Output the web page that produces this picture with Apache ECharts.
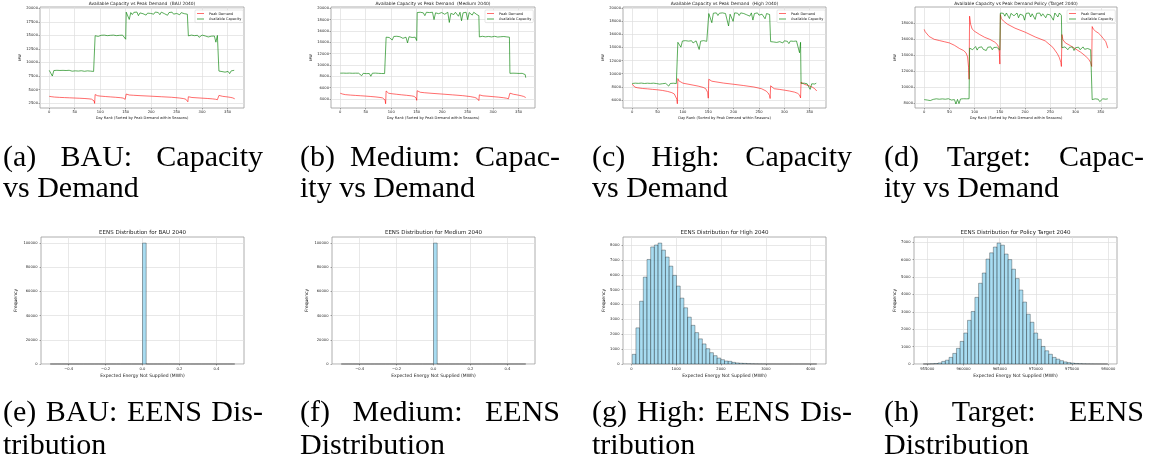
<!DOCTYPE html>
<html>
<head>
<meta charset="utf-8">
<script src="https://cdn.jsdelivr.net/npm/echarts@6.0.0/dist/echarts.min.js"></script>
<style>
html, body { margin: 0; padding: 0; background: #fff; }
#wrap { position: relative; width: 1152px; height: 468px; overflow: hidden; }
#chart { position: absolute; left: 0; top: 0; width: 1152px; height: 468px; }
.cap { position: absolute; font-family: "Liberation Serif", serif; font-size: 30px; line-height: 32px; color: #000; white-space: nowrap; }
.cap.j { text-align: justify; text-align-last: justify; white-space: normal; }
</style>
</head>
<body>
<div id="wrap"><div id="chart"></div></div>
<script>
// ---- capacity vs demand (day rank within seasons) ----
const capDays = [
  0,3,6,9,12,15,18,21,24,27,30,33,36,39,42,45,48,51,54,57,60,63,66,69,72,75,78,81,84,87,89,
  90,93,96,99,102,105,108,111,114,117,120,123,126,129,132,135,138,141,144,147,150,
  151,154,157,160,163,166,169,172,175,178,181,184,187,190,193,196,199,202,205,208,211,214,217,220,223,226,229,232,235,238,241,244,247,250,253,256,259,262,265,268,271,272,
  273,276,279,282,285,288,291,294,297,300,303,306,309,312,315,318,321,324,327,330,332,
  333,336,339,342,345,348,351,354,357,360,363,364
];
const capBAU = [
  8550,8460,7500,8520,8430,8560,8480,8530,8410,8550,8470,8520,8430,8560,8490,8400,8530,8460,8550,8420,8510,8480,8540,8380,8500,8460,8520,8410,8490,8350,8300,
  14950,15060,14820,14980,15030,14750,15060,14880,14960,14650,15020,14900,15060,14820,14960,14740,15020,14870,15050,14900,14300,
  19300,19120,17950,19220,18850,19260,19020,19320,18650,19160,19300,19010,19260,18750,19120,19310,19060,19250,18920,19320,19110,19220,18830,19300,19160,19020,19310,18720,19220,19110,19300,18930,19260,19060,19310,18820,19210,19300,19020,19260,18920,19100,
  14920,14830,15060,14720,14960,14860,15020,14650,14960,15060,14820,14910,15030,14720,14960,14860,15060,14900,13750,15000,14850,
  8420,8560,8330,8470,8220,8510,8360,7950,8450,8520,8560,8600
];
const capMedium = [
  8550,8520,8560,8490,8540,8500,8560,8470,8530,8510,8550,8480,8540,8500,8100,8520,8550,8470,8530,8490,8000,8540,8500,8560,8470,8520,8550,8490,8530,8480,8500,
  14900,15050,14850,14980,14400,15030,14920,15060,14800,14980,15020,14700,15050,14900,13900,14980,15040,14850,15000,14900,14300,
  19250,19100,19300,19000,19200,18700,19300,19150,19250,18900,19300,18000,19200,19300,19050,18700,19250,19300,18950,19200,19300,17500,19100,19250,18900,19300,19150,18600,19300,17800,19200,19050,19300,18000,19250,19100,18800,19300,19150,18900,19250,18700,
  14950,14880,15060,14800,14960,14900,15030,14750,14950,14870,15050,14800,14930,14700,14980,14850,15020,14780,14950,14600,14900,
  8520,8450,8550,8480,8530,8400,8500,8470,8520,8450,8300,7750
];
const capHigh = [
  8500,8420,8550,8380,8520,8450,8560,8400,8500,8470,8540,8360,8510,8450,8550,8420,8490,8530,8400,8560,8470,8380,8520,8450,8100,8500,8300,8540,8420,8490,8450,
  14800,14950,14050,15000,14900,15050,14750,14980,14880,15040,14700,14950,15020,14850,13700,14980,14900,15050,14800,14950,14850,
  19200,19300,17800,19250,19100,19300,18900,19250,19150,19300,19000,19200,19300,17300,19100,19250,18000,19300,19150,19250,18900,19300,19100,19200,19300,19000,19250,18800,19300,18200,19200,19100,19300,18950,19250,19100,19300,18400,19200,19300,19050,19150,
  14900,15020,14850,14980,14780,15050,14900,14960,14700,15030,14880,14950,14600,15000,14850,14950,14750,15000,14900,13200,14800,
  8500,8400,8550,8300,8450,8000,7600,8450,8500,8420,8550,8500
];
const capTarget = [
  8450,8550,8400,8500,8330,8560,8480,8420,8550,8390,8500,8460,8540,8380,8500,8430,8560,8470,8400,8520,8450,7900,8480,7950,8530,8460,8560,8500,8550,8520,8560,
  14900,15050,14700,14950,15100,14650,14980,14850,15060,14750,14950,14600,15000,14900,15060,14700,14980,14850,15000,14750,14650,
  19300,19150,19250,18900,19300,19100,18600,19250,19300,18950,19200,19300,18700,19150,19300,19000,18400,19250,19100,19300,18800,19200,19300,18500,19250,19100,19300,18900,19200,19300,18700,19150,19300,19050,19250,18400,19300,19200,18800,19300,19100,19000,
  14950,14800,15050,14900,14700,15000,14850,15050,14600,14950,14800,15020,14700,14900,15050,14750,14950,14850,15000,14700,14800,
  8450,8300,8550,8400,8500,8200,8450,8550,8350,8500,8450,8550
];

const demandDays = [
  0,2,5,10,20,30,40,50,60,70,78,83,86,88,89,
  90,92,95,100,110,120,130,140,145,148,149,150,
  151,153,157,165,180,200,220,240,255,264,268,271,272,
  273,275,280,290,300,310,320,326,330,331,332,
  333,335,340,345,350,355,360,364
];
const demandBAU = [
  3750,3720,3680,3620,3560,3520,3480,3440,3400,3350,3290,3230,3150,2900,2450,
  4080,3950,3860,3800,3720,3650,3580,3500,3430,3330,3200,2850,
  4180,4080,4000,3950,3870,3780,3680,3580,3450,3330,3220,3050,2750,
  3680,3600,3540,3480,3420,3360,3290,3220,3130,3020,2850,
  3920,3850,3760,3700,3640,3570,3470,3300
];
const demandMedium = [
  5000,4920,4850,4760,4680,4620,4560,4500,4430,4350,4260,4180,4080,3800,3150,
  5400,5150,5000,4930,4830,4730,4640,4540,4450,4320,4150,3750,
  5450,5300,5180,5100,4990,4860,4720,4580,4420,4260,4120,3950,3700,
  4720,4620,4550,4480,4400,4320,4220,4130,4020,3900,3720,
  5020,4900,4820,4750,4660,4560,4440,4250
];
const demandHigh = [
  8400,8150,7950,7850,7740,7680,7600,7530,7430,7280,7100,6900,6650,6100,5400,
  9250,8900,8700,8550,8400,8250,8100,7900,7700,7450,7100,6250,
  9150,8950,8850,8750,8560,8380,8180,7960,7700,7350,7050,6650,6200,
  8150,7850,7700,7600,7480,7350,7180,7000,6750,6550,6300,
  8700,8500,8350,8250,8100,7950,7700,7350
];
const demandTarget = [
  17250,16950,16700,16350,16000,15850,15700,15550,15250,14850,14600,14300,13800,12500,11000,
  18900,17900,17300,17000,16600,16250,16000,15650,15350,14950,14300,12900,
  19100,18600,18300,17900,17400,16900,16300,15800,15000,14200,13700,13100,12600,
  16600,15950,15550,15200,14800,14400,13900,13500,13100,12900,12600,
  17600,17300,17000,16800,16500,16100,15700,14900
];

const dayTicks = [0, 50, 100, 150, 200, 250, 300, 350];
const mwTicksBAU = [2500, 5000, 7500, 10000, 12500, 15000, 17500, 20000];
const mwTicksMedium = [4000, 6000, 8000, 10000, 12000, 14000, 16000, 18000, 20000];
const mwTicksHigh = [6000, 8000, 10000, 12000, 14000, 16000, 18000, 20000];
const mwTicksTarget = [8000, 10000, 12000, 14000, 16000, 18000];

// ---- EENS histograms (50 bins each) ----
const zeroBinStart = -0.5, zeroBinWidth = 0.02;
const countsBAU = [0,0,0,0,0,0,0,0,0,0,0,0,0,0,0,0,0,0,0,0,0,0,0,0,0,100000,0,0,0,0,0,0,0,0,0,0,0,0,0,0,0,0,0,0,0,0,0,0,0,0];
const countsMedium = [0,0,0,0,0,0,0,0,0,0,0,0,0,0,0,0,0,0,0,0,0,0,0,0,0,100000,0,0,0,0,0,0,0,0,0,0,0,0,0,0,0,0,0,0,0,0,0,0,0,0];
const highBinStart = 20, highBinWidth = 82.3;
const countsHigh = [650,2430,4220,5840,7030,7870,8000,8130,7660,7190,6580,5960,5240,4430,3780,3150,2600,2110,1690,1350,1030,760,560,400,290,200,180,110,70,50,40,25,15,10,6,4,3,2,2,1,1,1,0,1,0,0,1,0,0,1];
const targetBinStart = 954437, targetBinWidth = 509.8;
const countsTarget = [2,5,15,30,60,150,220,380,610,900,1300,1780,2510,3020,3830,4640,5230,6030,6390,6720,6950,6830,6320,6000,5450,4910,4250,3560,2860,2400,1780,1420,1010,760,560,380,280,190,120,80,50,30,20,12,8,5,3,2,1,1];
const zeroTicks = [-0.4, -0.2, 0, 0.2, 0.4];
const highTicks = [0, 1000, 2000, 3000, 4000];
const targetTicks = [955000, 960000, 965000, 970000, 975000, 980000];
const freqTicksZero = [0, 20000, 40000, 60000, 80000, 100000];
const freqTicksHigh = [0, 1000, 2000, 3000, 4000, 5000, 6000, 7000, 8000];
const freqTicksTarget = [0, 1000, 2000, 3000, 4000, 5000, 6000, 7000];

const topTitles = [
  'Available Capacity vs Peak Demand  (BAU 2040)',
  'Available Capacity vs Peak Demand  (Medium 2040)',
  'Available Capacity vs Peak Demand  (High 2040)',
  'Available Capacity vs Peak Demand Policy (Target 2040)'
];
const bottomTitles = [
  'EENS Distribution for BAU 2040',
  'EENS Distribution for Medium 2040',
  'EENS Distribution for High 2040',
  'EENS Distribution for Policy Target 2040'
];
const captionsTop = [
  ['(a) BAU: Capacity', 'vs Demand'],
  ['(b) Medium: Capac-', 'ity vs Demand'],
  ['(c) High: Capacity', 'vs Demand'],
  ['(d) Target: Capac-', 'ity vs Demand']
];
const captionsBottom = [
  ['(e) BAU: EENS Dis-', 'tribution'],
  ['(f) Medium: EENS', 'Distribution'],
  ['(g) High: EENS Dis-', 'tribution'],
  ['(h) Target: EENS', 'Distribution']
];

const FONT = 'DejaVu Sans';
const TXT = '#222';

// panel boxes
const topGrids = [
  { left: 40, top: 7, width: 204, height: 101 },
  { left: 331, top: 7, width: 204, height: 101 },
  { left: 623, top: 7, width: 203, height: 101 },
  { left: 915, top: 7, width: 202, height: 101 }
];
const botGrids = [
  { left: 41, top: 237, width: 203, height: 127 },
  { left: 332, top: 237, width: 203, height: 127 },
  { left: 623, top: 237, width: 203, height: 127 },
  { left: 914, top: 237, width: 203, height: 127 }
];

function axis(gridIndex, min, max, ticks, fmt, name, nameGap, nameSize, labelSize, margin) {
  return {
    type: 'value', gridIndex: gridIndex, min: min, max: max,
    name: name, nameLocation: 'middle', nameGap: nameGap,
    nameTextStyle: { fontFamily: FONT, fontSize: nameSize, color: TXT },
    axisLine: { show: false, onZero: false },
    axisTick: { show: true, customValues: ticks, length: 1.5, lineStyle: { color: '#555', width: 0.5 } },
    axisLabel: { customValues: ticks, formatter: fmt, fontFamily: FONT, fontSize: labelSize, color: TXT, margin: margin },
    splitLine: { show: true, lineStyle: { color: '#dedede', width: 0.7 } }
  };
}
const plain = v => String(Math.round(v));
const oneDec = v => (v < 0 ? '\u2212' : '') + Math.abs(v).toFixed(1);

const grids = [];
const xAxes = [];
const yAxes = [];
const series = [];
const legends = [];
const graphics = [];

const capSets = [capBAU, capMedium, capHigh, capTarget];
const demandSets = [demandBAU, demandMedium, demandHigh, demandTarget];
const mwTickSets = [mwTicksBAU, mwTicksMedium, mwTicksHigh, mwTicksTarget];
const mwRanges = [[1600, 20250], [2400, 20230], [4750, 20200], [7400, 20050]];
const mwNameGaps = [17.5, 17.5, 14.5, 13.2];
const legendLeft = [195, 485, 777, 1067];

topGrids.forEach((g, p) => {
  grids.push(Object.assign({ show: true, borderColor: '#9a9a9a', borderWidth: 0.8, containLabel: false, outerBoundsMode: 'none' }, g));
  xAxes.push(axis(p, -18.2, 382.2, dayTicks, plain, 'Day Rank (Sorted by Peak Demand within Seasons)', 8, 3.6, 3.7, 2));
  yAxes.push(axis(p, mwRanges[p][0], mwRanges[p][1], mwTickSets[p], plain, 'MW', mwNameGaps[p], 3.6, 3.7, 2));
  series.push({
    type: 'line', name: 'Peak Demand', xAxisIndex: p, yAxisIndex: p,
    data: demandDays.map((d, i) => [d, demandSets[p][i]]),
    symbol: 'none', showSymbol: false, silent: true,
    lineStyle: { color: 'rgba(255,0,0,0.72)', width: 0.8 }, itemStyle: { color: 'rgba(255,0,0,0.72)' }
  });
  series.push({
    type: 'line', name: 'Available Capacity', xAxisIndex: p, yAxisIndex: p,
    data: capDays.map((d, i) => [d, capSets[p][i]]),
    symbol: 'none', showSymbol: false, silent: true,
    lineStyle: { color: 'rgba(0,128,0,0.85)', width: 0.75 }, itemStyle: { color: 'rgba(0,128,0,0.85)' }
  });
  legends.push({
    left: legendLeft[p], top: 10, orient: 'vertical', selectedMode: false,
    icon: 'rect', itemWidth: 7, itemHeight: 0.8, itemGap: 1.4, padding: [1.6, 2, 1.6, 2],
    backgroundColor: 'rgba(255,255,255,0.85)', borderColor: '#cccccc', borderWidth: 0.5, borderRadius: 1,
    textStyle: { fontFamily: FONT, fontSize: 3.5, color: TXT },
    data: ['Peak Demand', 'Available Capacity']
  });
  graphics.push({
    type: 'text', x: g.left + g.width / 2, y: 4, silent: true,
    style: { text: topTitles[p], fontFamily: FONT, fontSize: 4.4, fill: TXT, align: 'center', verticalAlign: 'middle' }
  });
});

const histSets = [
  { start: zeroBinStart, width: zeroBinWidth, counts: countsBAU, xr: [-0.55, 0.55], xt: zeroTicks, xf: oneDec, yr: 105000, yt: freqTicksZero, gap: 23 },
  { start: zeroBinStart, width: zeroBinWidth, counts: countsMedium, xr: [-0.55, 0.55], xt: zeroTicks, xf: oneDec, yr: 105000, yt: freqTicksZero, gap: 23 },
  { start: highBinStart, width: highBinWidth, counts: countsHigh, xr: [-185.7, 4340.7], xt: highTicks, xf: plain, yr: 8540, yt: freqTicksHigh, gap: 16.7 },
  { start: targetBinStart, width: targetBinWidth, counts: countsTarget, xr: [953163, 981200], xt: targetTicks, xf: plain, yr: 7300, yt: freqTicksTarget, gap: 15.7 }
];

function renderBin(params, api) {
  const a = api.coord([api.value(0), api.value(2)]);
  const b = api.coord([api.value(1), 0]);
  return {
    type: 'rect',
    shape: { x: a[0], y: a[1], width: b[0] - a[0], height: b[1] - a[1] },
    style: { fill: 'rgba(135,206,235,0.72)', stroke: 'rgba(0,0,0,0.62)', lineWidth: 0.5 }
  };
}

botGrids.forEach((g, k) => {
  const p = k + 4;
  const h = histSets[k];
  grids.push(Object.assign({ show: true, borderColor: '#9a9a9a', borderWidth: 0.8, containLabel: false, outerBoundsMode: 'none' }, g));
  xAxes.push(axis(p, h.xr[0], h.xr[1], h.xt, h.xf, 'Expected Energy Not Supplied (MWh)', 9.4, 4.5, 3.7, 3));
  yAxes.push(axis(p, 0, h.yr, h.yt, plain, 'Frequency', h.gap, 4.5, 3.7, 3.5));
  series.push({
    type: 'custom', xAxisIndex: p, yAxisIndex: p, silent: true,
    renderItem: renderBin,
    encode: { x: [0, 1], y: 2 },
    data: h.counts.map((c, i) => [h.start + i * h.width, h.start + (i + 1) * h.width, c])
  });
  graphics.push({
    type: 'text', x: g.left + g.width / 2, y: 233, silent: true,
    style: { text: bottomTitles[k], fontFamily: FONT, fontSize: 5.5, fill: TXT, align: 'center', verticalAlign: 'middle' }
  });
});

const chart = echarts.init(document.getElementById('chart'), null, { renderer: 'canvas' });
chart.setOption({
  animation: false,
  backgroundColor: '#ffffff',
  grid: grids,
  xAxis: xAxes,
  yAxis: yAxes,
  legend: legends,
  graphic: graphics,
  series: series
});

// sub-figure captions
const capCols = [3, 300, 592, 884];
const capWidth = 260;
const wrap = document.getElementById('wrap');
function addCaption(text, left, top, justify) {
  const d = document.createElement('div');
  d.className = 'cap' + (justify ? ' j' : '');
  d.style.left = left + 'px';
  d.style.top = top + 'px';
  if (justify) d.style.width = capWidth + 'px';
  d.textContent = text;
  wrap.appendChild(d);
}
captionsTop.forEach((c, i) => {
  addCaption(c[0], capCols[i], 140, true);
  addCaption(c[1], capCols[i], 171, false);
});
captionsBottom.forEach((c, i) => {
  addCaption(c[0], capCols[i], 395, true);
  addCaption(c[1], capCols[i], 428, false);
});
</script>
</body>
</html>
